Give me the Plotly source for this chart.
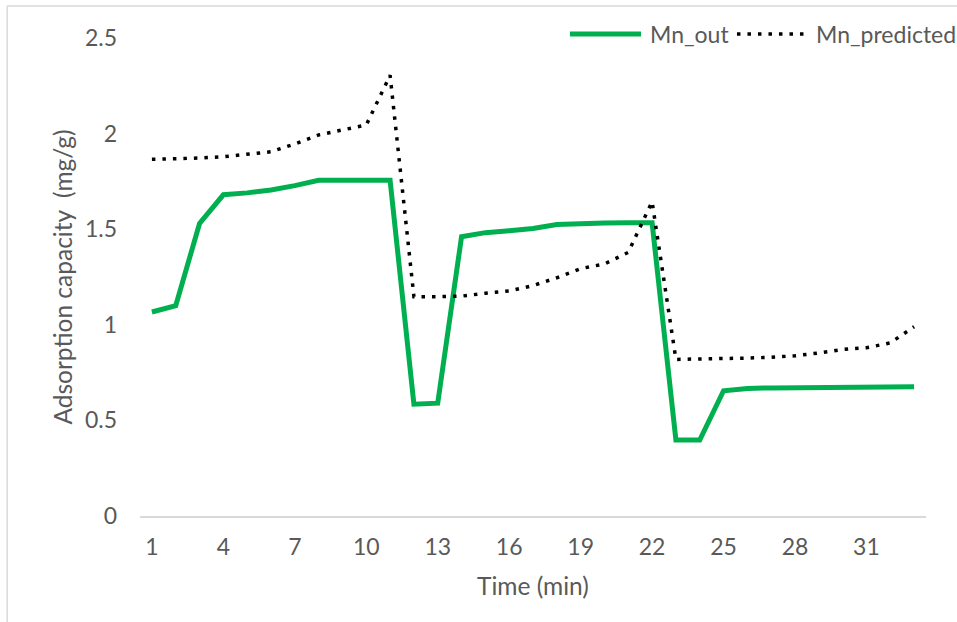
import plotly.graph_objects as go

# Sampling times (min) and adsorption capacities (mg/g)
time_min = list(range(1, 34))

mn_out = [1.067, 1.10, 1.53, 1.68, 1.69, 1.705, 1.728, 1.756, 1.756, 1.756,
          1.756, 0.585, 0.59, 1.461, 1.482, 1.492, 1.504, 1.525, 1.531, 1.533,
          1.534, 1.534, 0.397, 0.397, 0.655, 0.667, 0.67, 0.671, 0.673, 0.675,
          0.676, 0.676, 0.676]

mn_predicted = [1.866, 1.868, 1.872, 1.879, 1.891, 1.905, 1.946, 1.993, 2.019, 2.045,
                2.305, 1.147, 1.147, 1.15, 1.165, 1.177, 1.205, 1.246, 1.294, 1.318,
                1.379, 1.644, 0.819, 0.82, 0.823, 0.826, 0.83, 0.838, 0.853, 0.871,
                0.88, 0.905, 0.99]

x_tick_vals = [1, 4, 7, 10, 13, 16, 19, 22, 25, 28, 31]
y_tick_vals = [0, 0.5, 1, 1.5, 2, 2.5]
y_tick_text = ["0", "0.5", "1", "1.5", "2", "2.5"]

FONT = "Lato, Carlito, 'Open Sans', sans-serif"
GREY = "#595959"
GREEN = "#00b050"
DOTS = "3.5px,7px"

fig = go.Figure()
fig.add_trace(go.Scatter(
    x=time_min, y=mn_out, mode="lines", name="Mn_out",
    line=dict(color=GREEN, width=5),
))
fig.add_trace(go.Scatter(
    x=time_min, y=mn_predicted, mode="lines", name="Mn_predicted",
    line=dict(color="#000000", width=3.5, dash=DOTS),
))

# legend drawn by hand so the line samples get the long Excel-style length
leg_y = 1.0084
legend_shapes = [
    dict(type="line", xref="paper", yref="paper", x0=0.547, x1=0.6374,
         y0=leg_y, y1=leg_y, line=dict(color=GREEN, width=5)),
    dict(type="line", xref="paper", yref="paper", x0=0.7595, x1=0.8473,
         y0=leg_y, y1=leg_y, line=dict(color="#000000", width=3.5, dash=DOTS)),
]
legend_labels = [
    dict(text="Mn_out", xref="paper", yref="paper", x=0.6463, y=leg_y,
         xanchor="left", yanchor="middle", showarrow=False,
         font=dict(size=23, color=GREY)),
    dict(text="Mn_predicted", xref="paper", yref="paper", x=0.8575, y=leg_y,
         xanchor="left", yanchor="middle", showarrow=False,
         font=dict(size=23, color=GREY)),
]

fig.update_layout(
    width=957, height=622,
    margin=dict(l=140, r=31, t=38, b=106),
    paper_bgcolor="white", plot_bgcolor="white",
    font=dict(family=FONT, size=23, color=GREY),
    showlegend=False,
    xaxis=dict(
        range=[0.5, 33.5], tickmode="array", tickvals=x_tick_vals,
        showgrid=False, zeroline=False, showline=True, linecolor="#d9d9d9",
        linewidth=1.5, ticks="", ticklabelstandoff=10,
        tickfont=dict(size=23, color=GREY),
        title=dict(text="Time (min)", font=dict(size=24.5, color=GREY), standoff=19),
    ),
    yaxis=dict(
        range=[0, 2.5], tickmode="array", tickvals=y_tick_vals, ticktext=y_tick_text,
        showgrid=False, zeroline=False, showline=False, ticks="",
        ticklabelstandoff=22,
        tickfont=dict(size=23, color=GREY),
        title=dict(text="Adsorption capacity  (mg/g)", font=dict(size=24.5, color=GREY),
                   standoff=5),
    ),
    shapes=[
        # chart frame (top and left edges)
        dict(type="line", xref="paper", yref="paper", x0=-0.169, x1=1.1,
             y0=1.067, y1=1.067, line=dict(color="#d9d9d9", width=1.5)),
        dict(type="line", xref="paper", yref="paper", x0=-0.169, x1=-0.169,
             y0=1.067, y1=-0.3, line=dict(color="#d9d9d9", width=1.5)),
    ] + legend_shapes,
    annotations=legend_labels,
)

fig.write_html("out.html")
